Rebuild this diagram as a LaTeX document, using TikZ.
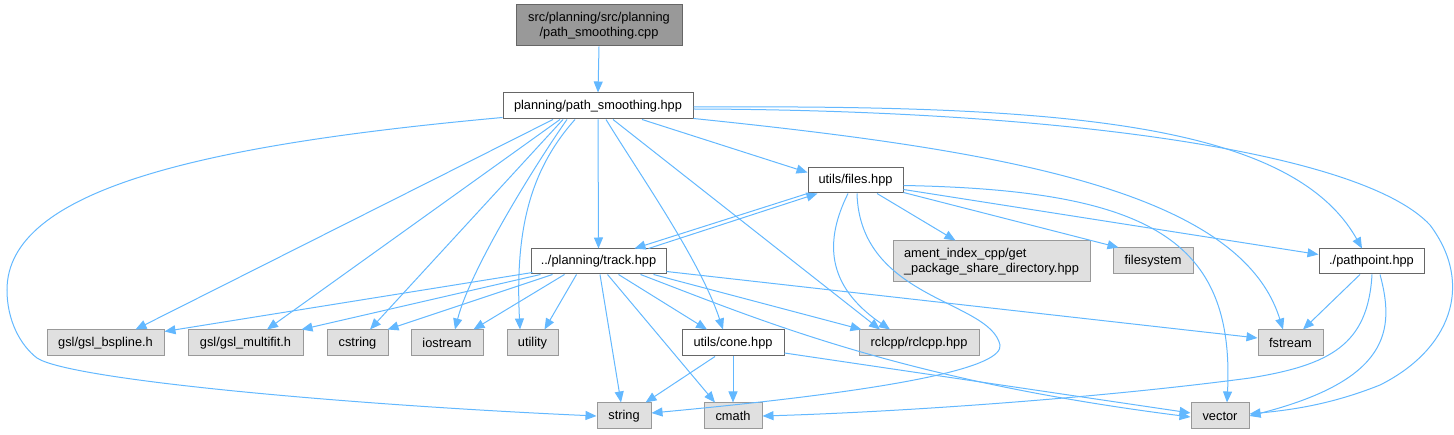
\documentclass[tikz,border=0pt]{standalone}
\usepackage{fontspec}
\setmainfont{Liberation Sans}
\usetikzlibrary{arrows.meta,calc}
\definecolor{edgecol}{HTML}{63B8FF}
\definecolor{extfill}{HTML}{E0E0E0}
\definecolor{extdraw}{HTML}{999999}
\definecolor{intdraw}{HTML}{666666}
\definecolor{rootfill}{HTML}{999999}
\begin{document}
\begin{tikzpicture}[x=1pt,y=-1pt,
  box/.style={draw, line width=1pt, inner sep=0pt, font=\fontsize{12.8}{15}\selectfont, anchor=center},
  ext/.style={box, draw=extdraw, fill=extfill},
  int/.style={box, draw=intdraw, fill=white},
  rootbox/.style={box, draw=intdraw, fill=rootfill},
  dep/.style={draw=edgecol, line width=1pt, -{Triangle[length=11pt,width=9pt]}}]
\useasboundingbox (0,0) rectangle (1454,435);
% nodes
\node[rootbox, minimum width=166pt, minimum height=41pt, align=center] (root) at (599,25.5) {src/planning/src/planning\\/path\_smoothing.cpp};
\node[int, minimum width=190pt, minimum height=26pt] (ps) at (598,106) {planning/path\_smoothing.hpp};
\node[int, minimum width=95pt, minimum height=25pt] (files) at (855.5,180.5) {utils/files.hpp};
\node[int, minimum width=135pt, minimum height=25pt] (track) at (598.5,261.5) {../planning/track.hpp};
\node[ext, minimum width=197pt, minimum height=41pt, align=left] (ament) at (991.5,261.5) {ament\_index\_cpp/get\\\_package\_share\_directory.hpp};
\node[ext, minimum width=80pt, minimum height=26pt] (filesystem) at (1153,261) {filesystem};
\node[int, minimum width=105pt, minimum height=25pt] (pathpoint) at (1371.5,261.5) {./pathpoint.hpp};
\node[ext, minimum width=117pt, minimum height=26pt] (bspline) at (105.5,343) {gsl/gsl\_bspline.h};
\node[ext, minimum width=115pt, minimum height=26pt] (multifit) at (245.5,343) {gsl/gsl\_multifit.h};
\node[ext, minimum width=61pt, minimum height=26pt] (cstring) at (357.5,343) {cstring};
\node[ext, minimum width=72pt, minimum height=26pt] (iostream) at (447,343) {iostream};
\node[ext, minimum width=51pt, minimum height=26pt] (utility) at (532.5,343) {utility};
\node[int, minimum width=102pt, minimum height=26pt] (cone) at (733,343) {utils/cone.hpp};
\node[ext, minimum width=120pt, minimum height=26pt] (rclcpp) at (919,343) {rclcpp/rclcpp.hpp};
\node[ext, minimum width=65pt, minimum height=26pt] (fstream) at (1290.5,343) {fstream};
\node[ext, minimum width=54pt, minimum height=26pt] (string) at (624,416) {string};
\node[ext, minimum width=58pt, minimum height=26pt] (cmath) at (733,416) {cmath};
\node[ext, minimum width=58pt, minimum height=26pt] (vector) at (1220,416) {vector};
% edges from root
\draw[dep] (root.south) -- (ps.north);
% edges from ps
\draw[dep] ($(ps.south west)+(0,-2)$) .. controls (200,145) and (7,190) .. (7,290) .. controls (7,320) and (20,345) .. (37,358) .. controls (70,380) and (350,405) .. (string.west);
\draw[dep] ($(ps.south)+(-45,0)$) -- ($(bspline.north)+(30,0)$);
\draw[dep] ($(ps.south)+(-38,0)$) -- ($(multifit.north)+(21.5,0)$);
\draw[dep] ($(ps.south)+(-35,0)$) -- ($(cstring.north)+(12.5,0)$);
\draw[dep] ($(ps.south)+(-31,0)$) .. controls (535,165) and (470,270) .. ($(iostream.north)+(8,0)$);
\draw[dep] ($(ps.south)+(-23,0)$) .. controls (530,170) and (515,230) .. ($(utility.north)+(-12.5,0)$);
\draw[dep] (ps.south) -- (track.north);
\draw[dep] ($(ps.south)+(8,0)$) .. controls (640,175) and (700,260) .. ($(cone.north)+(-10,0)$);
\draw[dep] ($(ps.south)+(15,0)$) -- ($(rclcpp.north)+(-39,0)$);
\draw[dep] ($(ps.south)+(44,0)$) -- ($(files.west)+(0,-8)$);
\draw[dep] ($(ps.east)+(0,1)$) .. controls (1050,105) and (1290,120) .. ($(pathpoint.north)+(-9.5,0)$);
\draw[dep] ($(ps.east)+(0,3)$) .. controls (1050,110) and (1360,150) .. (1430,225) .. controls (1475,285) and (1450,350) .. (1380,385) .. controls (1330,405) and (1290,410) .. ($(vector.east)+(0,-2)$);
\draw[dep] ($(ps.south east)+(0,-1)$) .. controls (1000,150) and (1240,190) .. ($(fstream.north)+(-7.5,0)$);
% edges from files
\draw[dep] (files.south west) -- ($(track.north)+(36,0)$);
\draw[dep] ($(files.south)+(21.5,0)$) -- ($(ament.north)+(-36,0)$);
\draw[dep] ($(files.south east)+(0,-1)$) -- ($(filesystem.north west)+(6,0)$);
\draw[dep] ($(files.east)+(0,9)$) -- ($(pathpoint.west)+(0,-7)$);
\draw[dep] ($(files.east)+(0,5)$) .. controls (1150,190) and (1235,240) .. ($(vector.north)+(7,0)$);
\draw[dep] ($(files.south)+(-7.5,0)$) .. controls (825,240) and (825,285) .. ($(rclcpp.north)+(-29,0)$);
\draw[dep] ($(files.south)+(1.5,0)$) .. controls (860,300) and (990,300) .. (1000,345) .. controls (1003,365) and (920,388) .. ($(string.east)+(0,-3)$);
% edges from track
\draw[dep] ($(track.north)+(50,0)$) -- ($(files.south west)+(10,0)$);
\draw[dep] ($(track.south west)+(2,-2)$) -- ($(bspline.north east)+(0,2)$);
\draw[dep] ($(track.south west)+(10,0)$) -- ($(multifit.north east)+(-2,0)$);
\draw[dep] ($(track.south west)+(22,0)$) -- ($(cstring.north east)+(-1,0)$);
\draw[dep] ($(track.south west)+(34,0)$) -- ($(iostream.north east)+(-10,0)$);
\draw[dep] ($(track.south)+(-22,0)$) -- ($(utility.north)+(12,0)$);
\draw[dep] ($(track.south)+(1.5,0)$) -- ($(string.north)+(-3,0)$);
\draw[dep] ($(track.south)+(9,0)$) -- ($(cmath.north)+(-18,0)$);
\draw[dep] ($(track.south)+(20,0)$) -- ($(cone.north)+(-26,0)$);
\draw[dep] ($(track.south)+(55,0)$) -- ($(rclcpp.north west)+(3,0)$);
\draw[dep] ($(track.south)+(42,0)$) .. controls (760,320) and (900,380) .. ($(vector.west)+(0,1)$);
\draw[dep] ($(track.east)+(0,10)$) -- ($(fstream.west)+(0,-5)$);
% edges from cone
\draw[dep] ($(cone.south)+(-18,0)$) -- ($(string.north east)+(-6,0)$);
\draw[dep] (cone.south) -- (cmath.north);
\draw[dep] ($(cone.east)+(0,10)$) -- ($(vector.west)+(0,-3)$);
% edges from pathpoint
\draw[dep] ($(pathpoint.south)+(-11.5,0)$) -- ($(fstream.north)+(12.5,0)$);
\draw[dep] ($(pathpoint.south)+(0.5,0)$) .. controls (1368,345) and (1330,365) .. (1250,378) .. controls (1100,398) and (900,412) .. (cmath.east);
\draw[dep] ($(pathpoint.south)+(8.5,0)$) .. controls (1395,330) and (1390,380) .. (vector.east);
\end{tikzpicture}
\end{document}
